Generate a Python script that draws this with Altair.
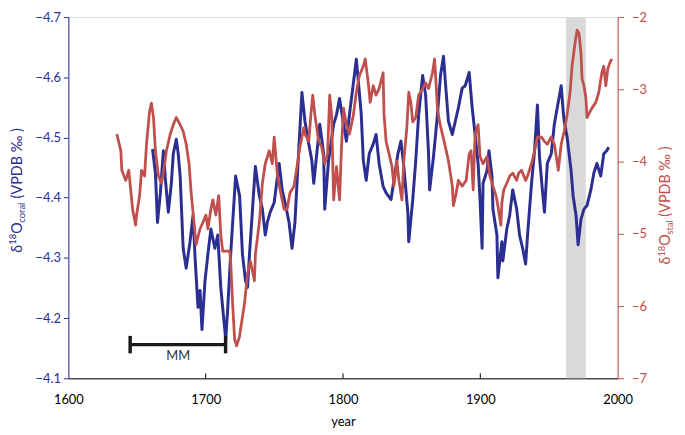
import altair as alt
import pandas as pd

# ---------------- data ----------------
coral_year = [1661.3,1663.4,1664.9,1667.0,1669.2,1670.6,1672.8,1675.0,1676.4,1678.6,
              1680.0,1681.4,1683.6,1685.8,1688.6,1690.8,1692.3,1694.4,1695.9,1697.3,
              1699.5,1701.6,1703.8,1706.7,1708.8,1711.0,1713.2,1714.6,1716.0,1718.2,
              1721.8,1724.7,1726.8,1729.0,1730.5,1731.9,1734.1,1736.2,1739.1,1741.3,
              1743.4,1744.9,1747.0,1749.9,1753.5,1755.7,1757.8,1760.7,1762.9,1765.0,
              1767.9,1770.1,1772.3,1775.1,1777.3,1778.7,1780.9,1783.1,1785.9,1786.7,
              1789.5,1793.2,1795.3,1797.5,1800.4,1802.5,1804.7,1807.6,1809.7,1811.9,
              1813.3,1814.8,1816.9,1819.1,1822.0,1824.1,1826.3,1829.2,1831.4,1835.0,
              1837.1,1840.0,1842.2,1844.3,1847.2,1847.9,1850.8,1853.0,1855.1,1858.0,
              1860.2,1862.3,1863.1,1865.9,1868.8,1871.0,1873.2,1874.6,1876.8,1879.6,
              1881.8,1884.0,1886.8,1889.0,1891.9,1894.1,1896.2,1898.4,1899.8,1901.3,
              1902.0,1904.9,1906.3,1908.5,1909.2,1912.1,1912.8,1915.7,1916.4,1919.3,
              1921.4,1923.6,1926.5,1928.6,1930.8,1933.0,1934.4,1937.3,1939.5,1941.6,
              1943.1,1945.2,1946.7,1948.8,1951.7,1953.9,1956.0,1958.9,1960.4,1961.1,
              1963.2,1966.1,1967.6,1969.7,1971.2,1973.3,1975.5,1977.7,1980.5,1982.7,
              1984.9,1987.7,1989.9,1992.1,1993.5]
coral_d18o = [-4.481,-4.441,-4.359,-4.408,-4.478,-4.432,-4.376,-4.424,-4.473,-4.497,
              -4.473,-4.436,-4.316,-4.283,-4.327,-4.371,-4.299,-4.218,-4.246,-4.181,
              -4.262,-4.306,-4.348,-4.316,-4.338,-4.251,-4.197,-4.165,-4.214,-4.306,
              -4.436,-4.403,-4.306,-4.262,-4.251,-4.306,-4.381,-4.452,-4.403,-4.381,
              -4.338,-4.359,-4.376,-4.392,-4.457,-4.413,-4.392,-4.359,-4.316,-4.359,
              -4.484,-4.575,-4.527,-4.489,-4.462,-4.424,-4.473,-4.522,-4.473,-4.381,
              -4.462,-4.522,-4.538,-4.565,-4.522,-4.494,-4.538,-4.591,-4.630,-4.575,
              -4.538,-4.462,-4.429,-4.473,-4.489,-4.505,-4.457,-4.419,-4.408,-4.397,
              -4.429,-4.473,-4.494,-4.452,-4.376,-4.327,-4.397,-4.462,-4.538,-4.603,
              -4.570,-4.473,-4.413,-4.468,-4.538,-4.603,-4.635,-4.591,-4.527,-4.505,
              -4.527,-4.549,-4.582,-4.586,-4.608,-4.549,-4.505,-4.457,-4.397,-4.316,
              -4.424,-4.445,-4.478,-4.436,-4.381,-4.338,-4.267,-4.327,-4.295,-4.348,
              -4.371,-4.413,-4.381,-4.338,-4.316,-4.290,-4.338,-4.424,-4.478,-4.554,
              -4.468,-4.413,-4.376,-4.457,-4.473,-4.522,-4.549,-4.586,-4.543,-4.527,
              -4.501,-4.445,-4.403,-4.371,-4.322,-4.364,-4.381,-4.387,-4.413,-4.441,
              -4.457,-4.436,-4.473,-4.478,-4.484]

stal_year = [1635.3,1638.2,1638.9,1641.8,1644.0,1645.4,1646.8,1649.0,1649.7,1651.9,
             1653.3,1655.5,1656.9,1659.1,1660.5,1662.0,1663.4,1665.6,1667.7,1669.2,
             1671.4,1674.2,1676.4,1678.6,1681.4,1683.6,1685.8,1687.9,1689.4,1691.5,
             1693.0,1695.9,1698.0,1700.2,1701.6,1703.8,1705.2,1707.4,1709.5,1711.0,
             1712.4,1714.6,1717.5,1718.2,1719.6,1721.1,1722.5,1724.7,1725.4,1728.3,
             1730.5,1732.6,1735.5,1736.2,1739.1,1741.3,1743.4,1746.3,1748.5,1749.9,
             1752.1,1754.2,1757.1,1759.3,1761.4,1764.3,1766.5,1768.6,1771.5,1772.3,
             1775.1,1776.6,1778.0,1779.5,1782.3,1784.5,1786.7,1788.8,1790.3,1791.7,
             1793.2,1795.3,1797.5,1798.9,1800.4,1802.5,1804.7,1807.6,1809.7,1811.9,
             1814.8,1816.2,1818.4,1819.8,1822.0,1824.1,1826.3,1829.2,1829.9,1831.4,
             1833.5,1835.7,1837.1,1839.3,1840.7,1842.9,1844.3,1846.5,1847.9,1849.4,
             1850.8,1853.0,1855.1,1858.0,1860.2,1862.3,1865.2,1866.7,1868.8,1870.3,
             1872.4,1874.6,1876.8,1879.6,1880.4,1882.5,1884.0,1886.8,1889.7,1891.9,
             1893.3,1894.8,1896.2,1898.4,1899.8,1902.0,1904.9,1907.0,1909.2,1911.4,
             1912.8,1915.0,1915.7,1917.1,1919.3,1921.4,1923.6,1926.5,1927.9,1930.1,
             1933.0,1934.4,1937.3,1939.5,1941.6,1944.5,1946.7,1948.8,1951.7,1953.9,
             1955.3,1956.8,1958.9,1961.1,1963.2,1965.4,1966.8,1969.0,1970.5,1971.9,
             1973.3,1974.1,1975.5,1976.9,1977.7,1979.8,1981.3,1984.1,1986.3,1988.5,
             1989.9,1991.4,1992.8,1994.2,1995.7]
stal_d18o = [-3.62,-3.85,-4.12,-4.26,-4.12,-4.39,-4.66,-4.88,-4.74,-4.47,
             -4.12,-4.20,-3.76,-3.31,-3.19,-3.39,-3.85,-4.20,-4.30,-4.16,
             -3.85,-3.62,-3.49,-3.39,-3.49,-3.58,-3.76,-4.03,-4.43,-4.84,
             -5.15,-4.93,-4.84,-4.74,-4.93,-4.66,-4.53,-4.74,-4.47,-5.01,
             -5.24,-5.24,-5.24,-5.38,-5.96,-6.46,-6.55,-6.42,-6.32,-5.96,
             -5.55,-5.38,-5.65,-5.28,-4.84,-4.30,-4.03,-3.85,-4.03,-3.66,
             -4.16,-4.39,-4.66,-4.66,-4.43,-4.34,-4.07,-3.80,-3.53,-3.62,
             -3.72,-3.35,-3.08,-3.35,-3.72,-3.80,-4.03,-3.89,-3.08,-3.35,
             -4.53,-4.07,-4.53,-3.80,-3.26,-3.49,-3.62,-3.35,-3.04,-2.81,
             -2.68,-2.58,-2.91,-3.18,-2.95,-3.08,-2.99,-2.77,-3.35,-3.72,
             -3.89,-4.07,-4.34,-3.99,-4.26,-4.53,-3.99,-3.53,-3.04,-3.18,
             -3.45,-3.39,-3.08,-2.99,-2.91,-2.99,-2.77,-2.58,-3.26,-3.45,
             -3.62,-3.80,-3.99,-4.34,-4.61,-4.43,-4.26,-4.34,-4.26,-3.89,
             -3.85,-4.39,-3.62,-3.49,-3.93,-4.03,-3.93,-4.20,-4.34,-4.47,
             -4.61,-4.88,-4.57,-4.39,-4.30,-4.20,-4.16,-4.26,-4.16,-4.12,
             -4.26,-4.20,-4.03,-3.85,-3.66,-3.66,-3.72,-3.76,-3.66,-3.76,
             -3.93,-4.12,-3.76,-3.58,-3.35,-3.04,-2.68,-2.36,-2.18,-2.23,
             -2.50,-2.85,-2.95,-3.12,-3.39,-3.31,-3.26,-3.18,-3.04,-2.77,
             -2.68,-2.95,-2.72,-2.64,-2.58]

band_start = [1962.5]
band_end = [1976.8]
mm_start = [1645.0]
mm_end = [1714.5]
mm_level = [-4.156]
mm_label_year = [1680.0]
mm_label_level = [-4.137]
x_ticks = [1600, 1700, 1800, 1900, 2000]
x_inner_ticks = [1700, 1800, 1900]
coral_ticks = [-4.7, -4.6, -4.5, -4.4, -4.3, -4.2, -4.1]
stal_ticks = [-7, -6, -5, -4, -3, -2]

# ---------------- styling ----------------
BLUE = "#2B2F91"
RED = "#C0504D"
FONT = "Lato"
W, H = 555, 365

coral_df = pd.DataFrame({"year": coral_year, "coral": coral_d18o})
stal_df = pd.DataFrame({"year": stal_year, "stal": stal_d18o})
band_df = pd.DataFrame({"start": band_start, "end": band_end})
mm_df = pd.DataFrame({"start": mm_start, "end": mm_end, "level": mm_level})
cap_df = pd.DataFrame({"year": mm_start + mm_end,
                       "lo": [mm_level[0] - 0.0145] * 2,
                       "hi": [mm_level[0] + 0.0145] * 2})
mm_lab_df = pd.DataFrame({"year": mm_label_year, "level": mm_label_level})
tick_df = pd.DataFrame({"year": x_inner_ticks})
one = pd.DataFrame({"a": [0]})

x_scale = alt.Scale(domain=[1600, 2000], nice=False, zero=False)
coral_scale = alt.Scale(domain=[-4.7, -4.1], reverse=True, nice=False, zero=False)
stal_scale = alt.Scale(domain=[-7, -2], nice=False, zero=False)

x_axis = alt.Axis(values=x_ticks, format="d", ticks=False, tickSize=0, labelPadding=15,
                  labelFlush=False, labelColor="#000000", labelFontSize=13, labelFont=FONT,
                  domainColor="#000000", grid=False, title="year", titleFont=FONT,
                  titleFontSize=13, titleFontWeight="normal", titleColor="#000000",
                  titlePadding=10)
coral_axis = alt.Axis(orient="left", values=coral_ticks, format=".1f", title=None, grid=False,
                      domainColor=BLUE, tickColor=BLUE, labelColor=BLUE, tickSize=5,
                      labelPadding=3, labelFontSize=13, labelFont=FONT, labelFlush=False)
stal_axis = alt.Axis(orient="right", values=stal_ticks, format="d", title=None, grid=False,
                     domainColor=RED, tickColor=RED, labelColor=RED, tickSize=6,
                     labelPadding=8, labelFontSize=13, labelFont=FONT, labelFlush=False)


def X(field):
    return alt.X(field, type="quantitative", scale=x_scale, axis=x_axis)


band = alt.Chart(band_df).mark_rect(color="#D9D9D9").encode(
    x=X("start"), x2="end", y=alt.value(0), y2=alt.value(H))

blue = alt.Chart(coral_df).mark_line(color=BLUE, strokeWidth=3, strokeJoin="round").encode(
    x=X("year"), y=alt.Y("coral:Q", scale=coral_scale, axis=coral_axis))
mm_rule = alt.Chart(mm_df).mark_rule(color="#1A1A1A", strokeWidth=3.5).encode(
    x=X("start"), x2="end", y=alt.Y("level:Q", scale=coral_scale, axis=coral_axis))
mm_caps = alt.Chart(cap_df).mark_rule(color="#1A1A1A", strokeWidth=3.5).encode(
    x=X("year"), y=alt.Y("lo:Q", scale=coral_scale, axis=coral_axis), y2="hi")
mm_text = alt.Chart(mm_lab_df).mark_text(text="MM", fontSize=13, font=FONT, color="#333333",
                                         baseline="middle").encode(
    x=X("year"), y=alt.Y("level:Q", scale=coral_scale, axis=coral_axis))
coral_layer = alt.layer(blue, mm_rule, mm_caps, mm_text)

red = alt.Chart(stal_df).mark_line(color=RED, strokeWidth=2.8, strokeJoin="round").encode(
    x=X("year"), y=alt.Y("stal:Q", scale=stal_scale, axis=stal_axis))

inner_ticks = alt.Chart(tick_df).mark_rule(color="#000000", strokeWidth=1).encode(
    x=X("year"), y=alt.value(H - 5), y2=alt.value(H))


def title_layers(pieces, base_x, start_y, color):
    out = []
    y = start_y
    for text, size, shift, width in pieces:
        out.append(alt.Chart(one).mark_text(text=text, angle=270, align="left",
                                            baseline="alphabetic", fontSize=size,
                                            font=FONT, color=color).encode(
            x=alt.value(base_x + shift), y=alt.value(y)))
        y -= width
    return out


left_title = title_layers([("δ", 14.5, 0, 8.0), ("18", 9.5, -5.5, 11.0), ("O", 14.5, 0, 11.3),
                           ("coral", 9.5, 3, 24.5), ("(VPDB ‰ )", 14.5, 0, 72.0)],
                          -47, 238, BLUE)
right_title = title_layers([("δ", 14.5, 0, 8.0), ("18", 9.5, -5.5, 11.0), ("O", 14.5, 0, 11.3),
                            ("stal", 9.5, 3, 18.0), ("(VPDB ‰ )", 14.5, 0, 72.0)],
                           608, 250, RED)

chart = alt.layer(band, coral_layer, red, inner_ticks, *left_title, *right_title).resolve_scale(
    y="independent"
).properties(
    width=W, height=H,
    autosize=alt.AutoSizeParams(type="none"),
    padding={"left": 61, "top": 7, "right": 60, "bottom": 50},
).configure_view(strokeWidth=0).configure(background="white")

chart.save("out.html", embed_options={"renderer": "svg", "actions": False})
